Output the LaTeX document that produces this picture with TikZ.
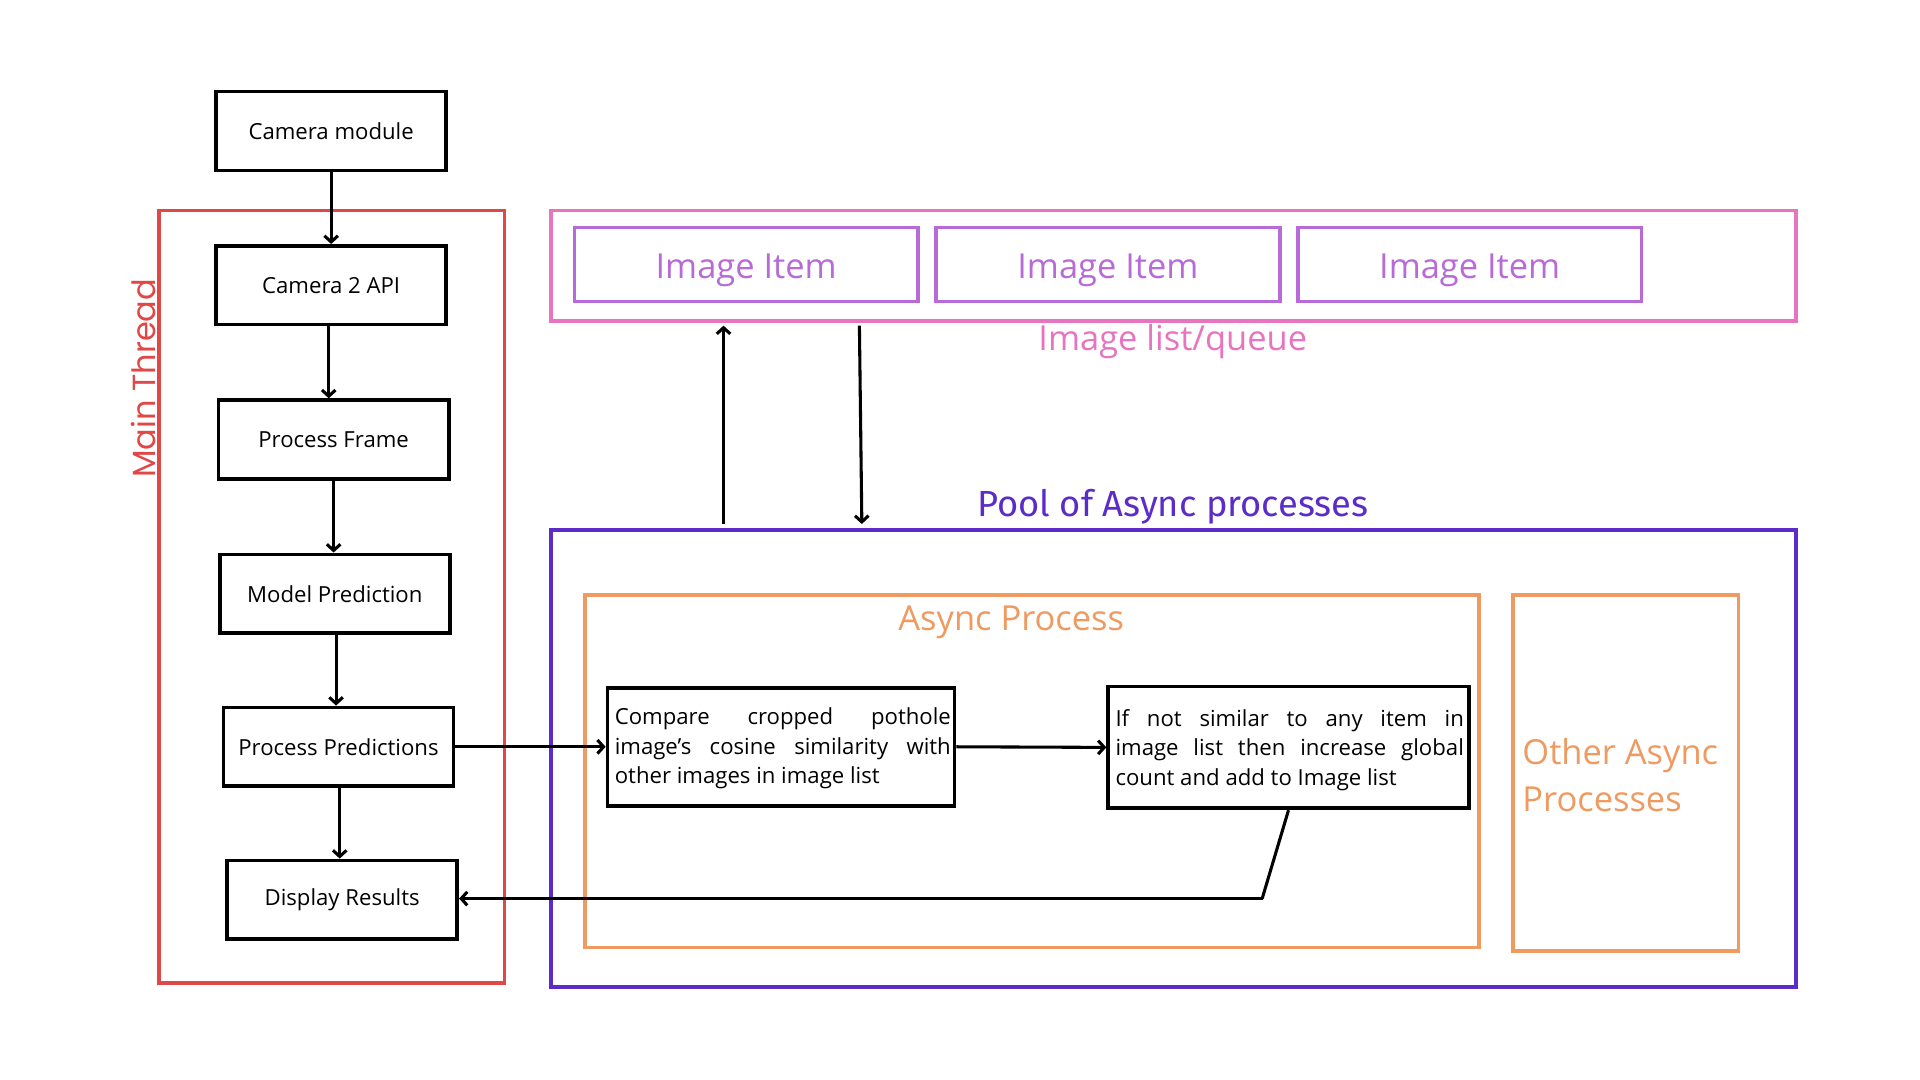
\documentclass[tikz,border=0pt]{standalone}
\usepackage{fontspec}
\setmainfont{Open Sans}
\newfontfamily\poolfont{Fira Sans}
\newfontfamily\mtfont{Poppins}
\usetikzlibrary{arrows.meta,positioning,calc}
\definecolor{mtred}{HTML}{E04848}
\definecolor{lpink}{HTML}{E874C0}
\definecolor{itpurple}{HTML}{B86AD6}
\definecolor{poolpurple}{HTML}{5B2CC8}
\definecolor{aorange}{HTML}{EE9A60}
\tikzset{
  flowbox/.style={draw=black, line width=3pt, minimum width=187pt, minimum height=64pt, inner sep=0pt, font=\fontsize{18}{22}\selectfont},
  textbox/.style={draw=black, line width=3pt, inner sep=0pt, font=\fontsize{18}{24}\selectfont},
  itembox/.style={draw=itpurple, line width=3pt, minimum width=279pt, minimum height=60pt, inner sep=0pt, text=itpurple, text depth=0pt, font=\fontsize{28}{32}\selectfont},
  frame/.style={line width=3pt},
  arr/.style={line width=2.5pt, -{Straight Barb[length=5pt,width=11pt]}},
  plain/.style={line width=2.5pt},
}
\begin{document}
\begin{tikzpicture}[x=1pt,y=-1pt]
\useasboundingbox[fill=white] (0,0) rectangle (1560,877.5);
\begin{scope}[scale=0.9947]
% Main thread
\draw[frame, draw=mtred] (130,172) rectangle (412,803);
\node[rotate=90, text=mtred, font=\mtfont\fontsize{26}{30}\selectfont] (mtlabel) at (117,309) {Main Thread};

\node[flowbox] (cam)   at (270.5,107) {Camera module};
\node[flowbox] (api)   at (270.5,233) {Camera 2 API};
\node[flowbox] (frm)   at (272.5,359) {Process Frame};
\node[flowbox] (model) at (273.5,485) {Model Prediction};
\node[flowbox] (preds) at (276.5,610) {Process Predictions};
\node[flowbox] (disp)  at (279.5,735) {Display Results};

\draw[arr] (cam.south) -- (cam.south |- api.north);
\draw[arr] ([xshift=-2pt]api.south) -- ([xshift=-2pt]api.south |- frm.north);
\draw[arr] (frm.south) -- (frm.south |- model.north);
\draw[arr] ([xshift=1pt]model.south) -- ([xshift=1pt]model.south |- preds.north);
\draw[arr] ([xshift=1pt]preds.south) -- ([xshift=1pt]preds.south |- disp.north);

% Image list
\draw[frame, draw=lpink] (450,172) rectangle (1467,262);
\node[itembox] (it1) at (609.5,216) {\raisebox{-2.5pt}{Image Item}};
\node[itembox] (it2) at (905,216) {\raisebox{-2.5pt}{Image Item}};
\node[itembox] (it3) at (1200.5,216) {\raisebox{-2.5pt}{Image Item}};
\node[text=lpink, font=\fontsize{28}{32}\selectfont] (listlabel) at (958,279) {Image list/queue};

% Pool
\draw[frame, draw=poolpurple] (450,433) rectangle (1467,806);
\node[text=poolpurple, font=\poolfont\fontsize{29.5}{33}\selectfont] (poollabel) at (958,414) {Pool of Async processes};

\coordinate (upS) at (591,428);
\coordinate (upE) at (591,266);
\coordinate (dnS) at (702,266);
\coordinate (dnE) at (704,428);
\draw[arr] (upS) -- (upE);
\draw[arr] (dnS) -- (dnE);

% Async process
\draw[frame, draw=aorange] (478,486) rectangle (1208,774);
\node[text=aorange, font=\fontsize{28}{32}\selectfont] (aplabel) at (826,508) {Async Process};

\draw[frame, draw=aorange] (1236,486) rectangle (1420,777);
\node[anchor=west, align=left, text=aorange, font=\fontsize{28}{38}\selectfont] (other) at (1240,633) {Other Async\\Processes};

\node[textbox, minimum width=282pt, minimum height=96pt] (cmp) at (638,610) {};
\node[text width=273pt, align=justify, inner sep=0pt, font=\fontsize{18}{24}\selectfont, anchor=north west] (cmptxt) at (502,578) {Compare cropped pothole\linebreak image’s cosine similarity with\linebreak other images in image list};

\node[textbox, minimum width=293pt, minimum height=99pt] (ifn) at (1052.5,610.5) {};
\node[text width=283pt, align=justify, inner sep=0pt, font=\fontsize{18}{24}\selectfont, anchor=north west] (ifntxt) at (911,579) {If not similar to any item in\linebreak image list then increase global\linebreak count and add to Image list};

\draw[arr] (preds.east) -- (cmp.west);
\draw[arr] (cmp.east) -- (ifn.west);

\coordinate (ret) at (1031,734);
\draw[plain] (ifn.south) -- (ret);
\draw[arr] ([xshift=1pt]ret) -- (disp.east |- ret);
\end{scope}
\end{tikzpicture}
\end{document}
